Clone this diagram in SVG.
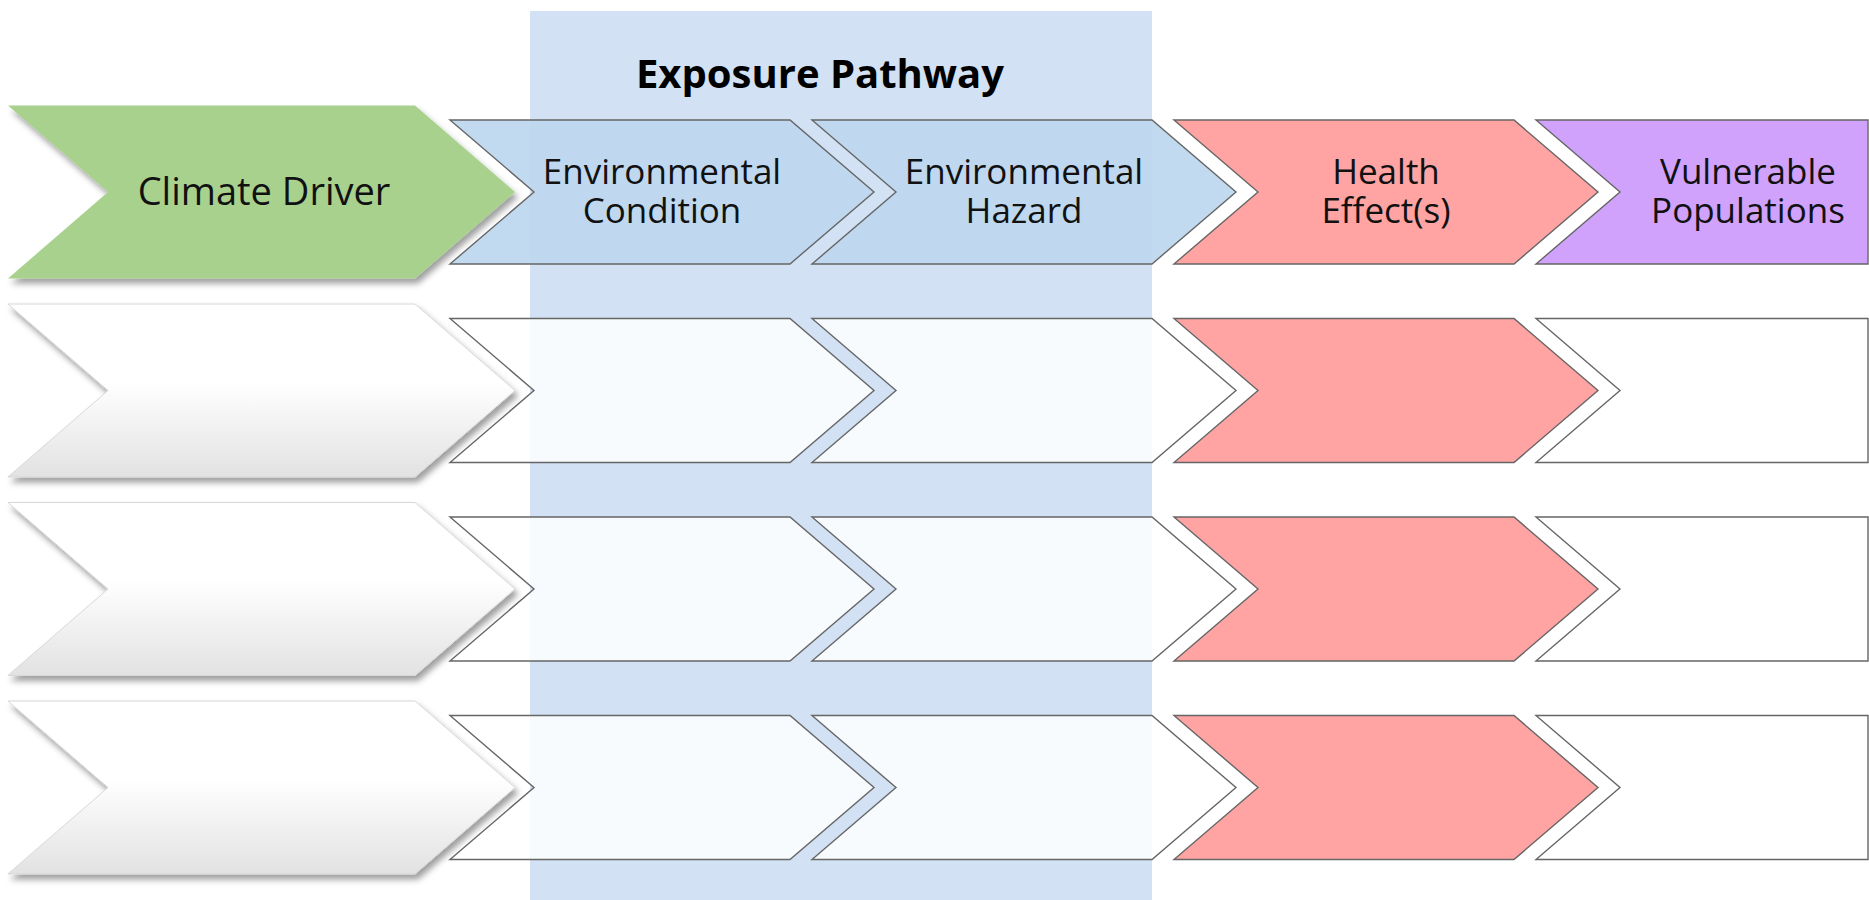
<svg xmlns="http://www.w3.org/2000/svg" width="1869" height="900" viewBox="0 0 1869 900">
<defs>
<filter id="shadow" x="-10%" y="-10%" width="125%" height="130%">
<feDropShadow dx="3" dy="5" stdDeviation="3" flood-color="#000" flood-opacity="0.38"/>
</filter>
<linearGradient id="wgrad" x1="0" y1="0" x2="0" y2="1">
<stop offset="0" stop-color="#ffffff"/>
<stop offset="0.45" stop-color="#ffffff"/>
<stop offset="1" stop-color="#e2e2e2"/>
</linearGradient>
</defs>
<style>
.lbl{font-family:"Open Sans","Noto Sans","DejaVu Sans",sans-serif;font-size:35px;fill:#111;text-anchor:middle}
.lblbig{font-family:"Open Sans","Noto Sans","DejaVu Sans",sans-serif;font-size:38px;fill:#111;text-anchor:middle}
.title{font-family:"Open Sans","Noto Sans","DejaVu Sans",sans-serif;font-size:40px;font-weight:bold;fill:#000;text-anchor:middle}
.big{filter:url(#shadow)}
.green{fill:#a9d18e}
.wg{fill:url(#wgrad);stroke:#d8d8d8;stroke-width:1}
.sm{stroke:#666;stroke-width:1.4;stroke-linejoin:miter}
.blue{fill:#bdd7ee;fill-opacity:0.93}
.wt{fill:#ffffff;fill-opacity:0.85}
.white{fill:#ffffff}
.red{fill:#ffa3a3}
.purple{fill:#d0a2fc}
</style>
<rect width="1869" height="900" fill="#ffffff"/>
<g id="exposure-band">
<rect x="530" y="11" width="622" height="889" fill="#d2e1f4"/>
<text class="title" x="820" y="88">Exposure Pathway</text>
</g>

<!-- Row 1 -->
<g id="climate-driver">
<path class="big green" d="M8,105.5 H415 L515,192 L415,278.5 H8 L108,192 Z"/>
<text class="lblbig" x="264" y="205">Climate Driver</text>
</g>
<g id="environmental-condition">
<path class="sm blue" d="M450,120 H790 L874,192 L790,264 H450 L534,192 Z"/>
<text class="lbl" x="662" y="184">Environmental</text>
<text class="lbl" x="662" y="223">Condition</text>
</g>
<g id="environmental-hazard">
<path class="sm blue" d="M812,120 H1152 L1236,192 L1152,264 H812 L896,192 Z"/>
<text class="lbl" x="1024" y="184">Environmental</text>
<text class="lbl" x="1024" y="223">Hazard</text>
</g>
<g id="health-effects">
<path class="sm red" d="M1174,120 H1514 L1598,192 L1514,264 H1174 L1258,192 Z"/>
<text class="lbl" x="1386" y="184">Health</text>
<text class="lbl" x="1386" y="223">Effect(s)</text>
</g>
<g id="vulnerable-populations">
<path class="sm purple" d="M1536,120 H1868 V264 H1536 L1620,192 Z"/>
<text class="lbl" x="1748" y="184">Vulnerable</text>
<text class="lbl" x="1748" y="223">Populations</text>
</g>

<!-- Row 2 -->
<g id="row2-driver"><path class="big wg" d="M8,304 H415 L515,390.5 L415,477 H8 L108,390.5 Z"/></g>
<g id="row2-condition"><path class="sm wt" d="M450,318.5 H790 L874,390.5 L790,462.5 H450 L534,390.5 Z"/></g>
<g id="row2-hazard"><path class="sm wt" d="M812,318.5 H1152 L1236,390.5 L1152,462.5 H812 L896,390.5 Z"/></g>
<g id="row2-health"><path class="sm red" d="M1174,318.5 H1514 L1598,390.5 L1514,462.5 H1174 L1258,390.5 Z"/></g>
<g id="row2-populations"><path class="sm white" d="M1536,318.5 H1868 V462.5 H1536 L1620,390.5 Z"/></g>

<!-- Row 3 -->
<g id="row3-driver"><path class="big wg" d="M8,502.5 H415 L515,589 L415,675.5 H8 L108,589 Z"/></g>
<g id="row3-condition"><path class="sm wt" d="M450,517 H790 L874,589 L790,661 H450 L534,589 Z"/></g>
<g id="row3-hazard"><path class="sm wt" d="M812,517 H1152 L1236,589 L1152,661 H812 L896,589 Z"/></g>
<g id="row3-health"><path class="sm red" d="M1174,517 H1514 L1598,589 L1514,661 H1174 L1258,589 Z"/></g>
<g id="row3-populations"><path class="sm white" d="M1536,517 H1868 V661 H1536 L1620,589 Z"/></g>

<!-- Row 4 -->
<g id="row4-driver"><path class="big wg" d="M8,701 H415 L515,787.5 L415,874 H8 L108,787.5 Z"/></g>
<g id="row4-condition"><path class="sm wt" d="M450,715.5 H790 L874,787.5 L790,859.5 H450 L534,787.5 Z"/></g>
<g id="row4-hazard"><path class="sm wt" d="M812,715.5 H1152 L1236,787.5 L1152,859.5 H812 L896,787.5 Z"/></g>
<g id="row4-health"><path class="sm red" d="M1174,715.5 H1514 L1598,787.5 L1514,859.5 H1174 L1258,787.5 Z"/></g>
<g id="row4-populations"><path class="sm white" d="M1536,715.5 H1868 V859.5 H1536 L1620,787.5 Z"/></g>
</svg>
